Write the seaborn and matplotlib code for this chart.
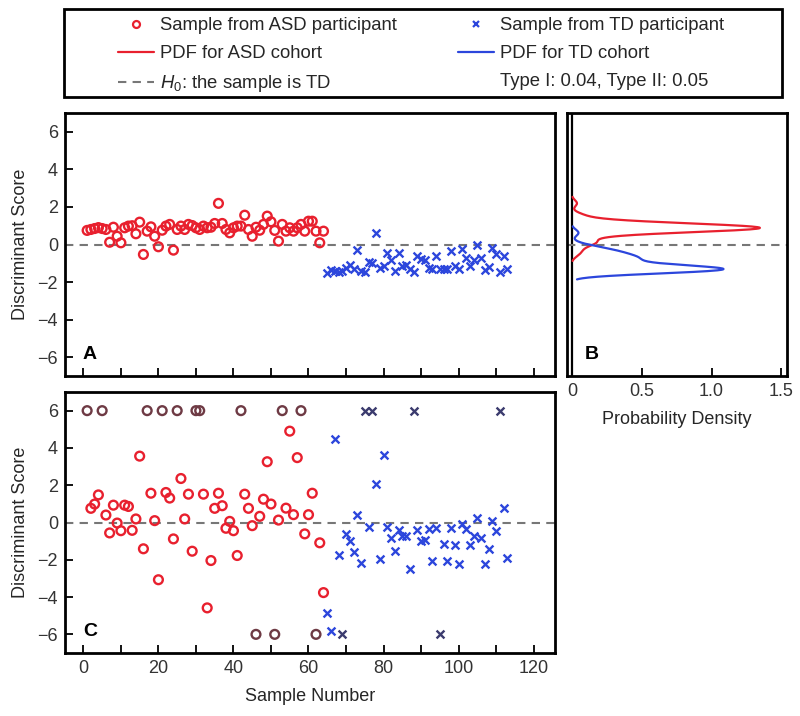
import numpy as np
import pandas as pd
import matplotlib
matplotlib.use("Agg")
import matplotlib.pyplot as plt
import seaborn as sns
from matplotlib.lines import Line2D
from matplotlib.patches import Rectangle

# ---------------- data ----------------
asd_n = list(range(1, 65))
td_n = list(range(65, 114))

# Panel A (discriminant scores, cross-validated)
asd_a = [0.75, 0.8, 0.85, 0.9, 0.85, 0.8, 0.12, 0.92, 0.44, 0.09, 0.89, 0.98, 1.0, 0.57,
         1.19, -0.53, 0.71, 0.94, 0.44, -0.12, 0.76, 0.98, 1.07, -0.3, 0.8, 0.98, 0.8, 1.07,
         1.01, 0.89, 0.8, 0.98, 0.89, 0.92, 1.12, 2.19, 1.12, 0.8, 0.62, 0.89, 0.98, 0.98,
         1.56, 0.8, 0.44, 0.92, 0.76, 1.07, 1.51, 1.21, 0.75, 0.18, 1.07, 0.71, 0.89, 0.71,
         0.89, 1.07, 0.71, 1.24, 1.24, 0.71, 0.09, 0.71]
td_a = [-1.51, -1.37, -1.42, -1.48, -1.42, -1.24, -1.07, -1.33, -0.27, -1.42, -1.48, -0.94,
        -0.98, 0.62, -1.24, -1.16, -0.44, -0.84, -1.42, -0.44, -1.12, -1.07, -1.30, -1.48,
        -0.62, -0.76, -0.84, -1.24, -1.30, -0.62, -1.30, -1.30, -1.30, -0.36, -1.12, -1.33,
        -0.23, -0.71, -1.12, -0.8, 0.0, -0.71, -1.37, -1.19, -0.18, -0.48, -1.48, -0.59, -1.30]

# Panel C (values shown clipped to +/-6)
asd_c = [6, 0.76, 0.99, 1.48, 6, 0.4, -0.56, 0.93, -0.03, -0.44, 0.93, 0.86, -0.42, 0.19,
         3.56, -1.41, 6, 1.57, 0.1, -3.07, 6, 1.61, 1.31, -0.88, 6, 2.36, 0.19, 1.52, -1.54,
         6, 6, 1.52, -4.58, -2.04, 0.76, 1.57, 0.9, -0.31, 0.06, -0.44, -1.77, 6, 1.52, 0.76,
         -0.17, -6, 0.33, 1.25, 3.26, 0.99, -6, 0.13, 6, 0.77, 4.9, 0.42, 3.48, 6, -0.61,
         0.42, 1.57, -6, -1.09, -3.76]
td_c = [-4.88, -5.82, 4.49, -1.77, -6, -0.61, -0.97, -1.59, 0.4, -2.16, 6, -0.22, 6, 2.05,
        -1.95, 3.63, -0.26, -0.83, -1.54, -0.4, -0.7, -0.7, -2.52, 6, -0.38, -0.97, -0.92,
        -0.35, -2.09, -0.31, -6, -1.15, -2.04, -0.31, -1.2, -2.21, -0.08, -0.35, -1.2, -0.7,
        0.24, -0.83, -2.25, -1.41, 0.1, -0.47, 6, 0.76, -1.89]

legend_labels = ["Sample from ASD participant", "PDF for ASD cohort", "$H_0$: the sample is TD",
                 "Sample from TD participant", "PDF for TD cohort", "Type I: 0.04, Type II: 0.05"]

# ---------------- style ----------------
RED = "#e8202e"
BLUE = "#2c46dc"
RED_CLIP = "#6e3a44"
BLUE_CLIP = "#3b3b6e"
GRAY = "#777777"
FS = 13

sns.set_theme(style="white")
plt.rcParams["font.family"] = ["Liberation Sans", "DejaVu Sans"]
plt.rcParams["mathtext.fontset"] = "custom"
plt.rcParams["mathtext.it"] = "Liberation Sans:italic"
plt.rcParams["mathtext.rm"] = "Liberation Sans"
plt.rcParams["axes.unicode_minus"] = True

W, H = 800, 716
fig = plt.figure(figsize=(W / 100, H / 100), dpi=100)


def ax_at(l, t, r, b):
    return fig.add_axes([l / W, 1 - b / H, (r - l) / W, (b - t) / H])


axA = ax_at(65, 113, 555, 376)
axB = ax_at(567, 113, 787, 376)
axC = ax_at(65, 392, 555, 653)

dfA_asd = pd.DataFrame({"n": asd_n, "score": asd_a})
dfA_td = pd.DataFrame({"n": td_n, "score": td_a})
dfC_asd = pd.DataFrame({"n": asd_n, "score": asd_c})
dfC_td = pd.DataFrame({"n": td_n, "score": td_c})
dfC_asd["clip"] = dfC_asd["score"].abs() >= 6
dfC_td["clip"] = dfC_td["score"].abs() >= 6

circ_kw = dict(marker="o", s=40, facecolor="none", linewidth=1.7, legend=False)
x_kw = dict(marker="x", s=32, linewidth=1.7, legend=False)


def circles(ax, df, color):
    sns.scatterplot(data=df, x="n", y="score", ax=ax, edgecolor=color, **circ_kw)


def crosses(ax, df, color):
    sns.scatterplot(data=df, x="n", y="score", ax=ax, color=color, **x_kw)


for ax in (axA, axB, axC):
    ax.axhline(0, color=GRAY, lw=1.5, ls=(0, (4, 3)), zorder=1)

circles(axA, dfA_asd, RED)
crosses(axA, dfA_td, BLUE)

circles(axC, dfC_asd[~dfC_asd["clip"]], RED)
circles(axC, dfC_asd[dfC_asd["clip"]], RED_CLIP)
crosses(axC, dfC_td[~dfC_td["clip"]], BLUE)
crosses(axC, dfC_td[dfC_td["clip"]], BLUE_CLIP)

# Panel B: PDFs
sns.kdeplot(y=asd_a, ax=axB, color=RED, lw=1.6, bw_adjust=0.95, cut=2)
sns.kdeplot(y=td_a, ax=axB, color=BLUE, lw=1.6, bw_adjust=0.8, cut=2)
axB.axvline(0, color="black", lw=1.6, zorder=0)

for ax in (axA, axC):
    ax.set_xlim(-4.9, 125.7)
    ax.set_ylim(-7, 7)
    ax.set_yticks([-6, -4, -2, 0, 2, 4, 6])
    ax.set_xticks(np.arange(0, 121, 20))
    ax.set_xticks(np.arange(10, 121, 20), minor=True)
    ax.set_ylabel("Discriminant Score", fontsize=FS, labelpad=6)
    ax.set_xlabel("")

axA.set_xticklabels([])
axC.set_xlabel("Sample Number", fontsize=FS, labelpad=8)

axB.set_ylim(-7, 7)
axB.set_xlim(-0.035, 1.54)
axB.set_yticks([])
axB.set_xticks([0, 0.5, 1.0, 1.5])
axB.set_xticklabels(["0", "0.5", "1.0", "1.5"])
axB.set_ylabel("")
axB.set_xlabel("Probability Density", fontsize=FS, labelpad=8)

for ax in (axA, axB, axC):
    ax.tick_params(which="both", direction="in", length=6, width=1.3, labelsize=FS,
                   colors="black", labelcolor="#333333", bottom=True, left=True, pad=5)
    for sp in ax.spines.values():
        sp.set_linewidth(2)
        sp.set_color("black")

for ax, lab in ((axA, "A"), (axB, "B"), (axC, "C")):
    frac = 18 / 490 if ax is not axB else 18 / 220
    ax.text(frac, 0.05, lab, transform=ax.transAxes, fontsize=14, fontweight="bold",
            color="black", ha="left", va="bottom")

# ---------------- legend ----------------
handles = [
    Line2D([], [], ls="none", marker="o", markersize=5, markerfacecolor="none",
           markeredgecolor=RED, markeredgewidth=1.6),
    Line2D([], [], color=RED, lw=1.6),
    Line2D([], [], color=GRAY, lw=1.5, ls=(0, (4, 3))),
    Line2D([], [], ls="none", marker="x", markersize=5, color=BLUE, markeredgewidth=1.6),
    Line2D([], [], color=BLUE, lw=1.6),
    Line2D([], [], ls="none"),
]
fig.legend(handles, legend_labels, ncol=2, loc="upper left",
           bbox_to_anchor=(118 / W, 1 - 17 / H), frameon=False, fontsize=13.3,
           handlelength=1.95, handletextpad=0.3, columnspacing=3.35, labelspacing=0.6,
           borderpad=0, borderaxespad=0)
fig.add_artist(Rectangle((64 / W, 1 - 97 / H), (782 - 64) / W, 88 / H,
                         transform=fig.transFigure, fill=False, lw=2, ec="black"))

fig.savefig("out.png", dpi=100)
